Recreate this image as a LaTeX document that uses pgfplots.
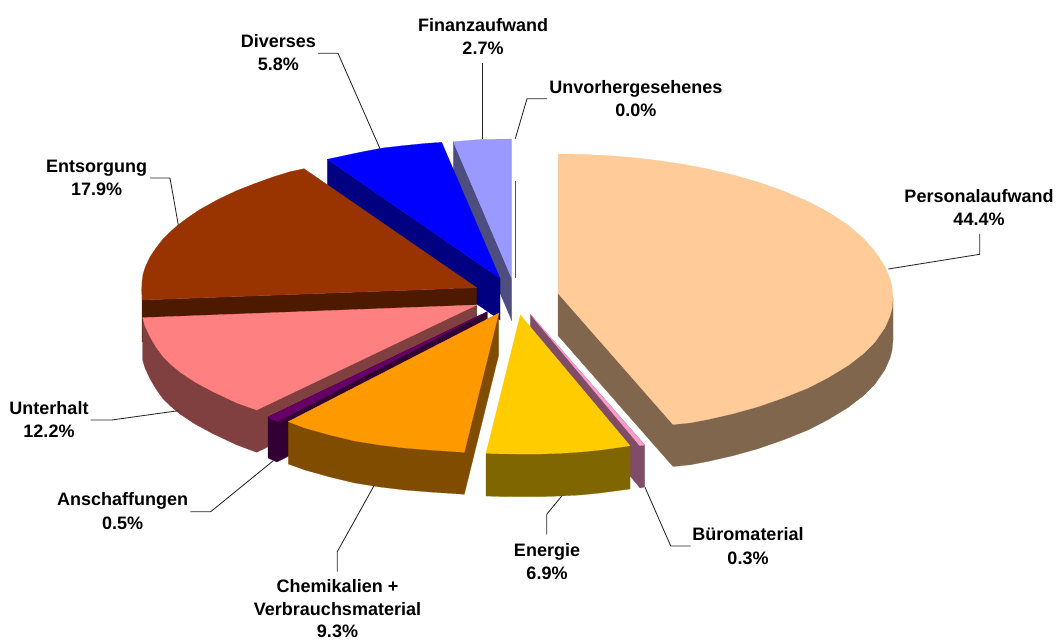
\documentclass[border=0pt]{standalone}
\usepackage{fontspec}
\setmainfont{Liberation Sans}
\usepackage{pgfplots}
\pgfplotsset{compat=1.18}
\definecolor{persT}{HTML}{FFCC99}\definecolor{persS}{HTML}{80664D}
\definecolor{bueT}{HTML}{FF99CC}\definecolor{bueS}{HTML}{804D66}
\definecolor{eneT}{HTML}{FFCC00}\definecolor{eneS}{HTML}{806600}
\definecolor{cheT}{HTML}{FF9900}\definecolor{cheS}{HTML}{804D00}
\definecolor{ansT}{HTML}{660066}\definecolor{ansS}{HTML}{330033}
\definecolor{untT}{HTML}{FF8080}\definecolor{untS}{HTML}{804040}
\definecolor{entT}{HTML}{993300}\definecolor{entS}{HTML}{4D1A00}
\definecolor{divT}{HTML}{0000FF}\definecolor{divS}{HTML}{000080}
\definecolor{finT}{HTML}{9999FF}\definecolor{finS}{HTML}{4D4D80}
\tikzset{lab/.style={anchor=base,inner sep=0pt,font=\bfseries\fontsize{18}{22}\selectfont,text=black}}
\pgfplotsset{
  face/.style={fill=#1,draw=#1,line width=0.2pt,no marks,forget plot},
  leader/.style={color=black!85,line width=0.85pt,no marks,forget plot,line join=miter},
}
\begin{document}
\begin{tikzpicture}
\useasboundingbox (0,0) rectangle (1056pt,639pt);
\begin{axis}[at={(0,0)},anchor=south west,width=1056pt,height=639pt,scale only axis,hide axis,
  xmin=0,xmax=1056,ymin=0,ymax=639,y dir=reverse,clip=false]
% Finanzaufwand
\addplot[face=finS] coordinates {(453.3,141.7)(511.7,278.3)(511.7,320.5)(453.3,183.7)} --cycle;
\addplot[face=finT] coordinates {(511.7,278.3)(453.3,141.7)(480,139.5)(511.7,139)} --cycle;
% Unvorhergesehenes
\addplot[color=finS,line width=0.9pt,no marks,forget plot] coordinates {(515.3,181)(515.3,278)};
% Diverses
\addplot[face=divS] coordinates {(327.3,159.3)(500,278.3)(500,320)(327.3,201.3)} --cycle;
\addplot[face=divT] coordinates {(500,278.3)(327.3,159.3)(345,155.5)(363,151.7)(383,148)(403,145.7)(425,143.5)(441.7,142.3)} --cycle;
% Entsorgung
\addplot[face=entS] coordinates {(142,300)(476.7,287.7)(476.7,329.7)(142,342)} --cycle;
\addplot[face=entT] coordinates {(476.7,287.7)(304,168.7)(289,172)(273,177)(255,183.5)(237,190.5)(218,199.5)(200,209.5)(188,217.6)(178,225)(170,232)(163,239)(156,248)(150,257)(147,263.3)(145,268)(143,274.5)(142,282)(141.7,290)(142,300)} --cycle;
% Unterhalt
\addplot[face=untS] coordinates {(476.7,305)(142.7,317.7)(142.7,360)(145,368)(150,378.7)(156,389)(163,398.7)(171,406.5)(180,414)(195,424)(213,433.7)(237,445)(256.7,452.3)(476.7,347)} --cycle;
\addplot[face=untT] coordinates {(476.7,305)(142.7,317.7)(145,326)(150,336.7)(156,347)(163,356.5)(171,364.5)(180,372)(195,382)(213,391.7)(237,403)(256.7,410)} --cycle;
% Anschaffungen
\addplot[face=ansS] coordinates {(487.3,311.7)(268,417)(268,458)(277,462)(487.3,354)} --cycle;
\addplot[face=ansT] coordinates {(487.3,311.7)(268,417)(277,422)} --cycle;
% Chemikalien + Verbrauchsmaterial
\addplot[face=cheS] coordinates {(498.7,313.3)(288.3,421.7)(288.3,464)(305,470)(330,477)(355,483)(380,487)(405,490)(430,492)(464.3,494.3)(498.7,355)} --cycle;
\addplot[face=cheT] coordinates {(498.7,313.3)(288.3,421.7)(305,428)(330,435)(355,441)(380,445)(405,448)(430,450)(464.3,452.3)} --cycle;
% Buromaterial
\addplot[face=bueS] coordinates {(530.3,314.3)(644.7,445)(644.7,487)(640,488)(530.3,356)} --cycle;
\addplot[face=bueT] coordinates {(530.3,314.3)(644.7,445)(639.7,445.7)} --cycle;
% Energie
\addplot[face=eneS] coordinates {(486,453.3)(630,445.7)(630,489)(615,491)(600,493)(580,495)(560,496)(540,496.7)(516.7,496.7)(500,496.5)(486,496)} --cycle;
\addplot[face=eneT] coordinates {(520.3,315)(486,453.3)(500,453.8)(516.7,454)(540,454)(560,453.3)(580,452)(600,450)(615,448)(630,445.7)} --cycle;
% Personalaufwand
\addplot[face=persS] coordinates {(558,293.3)(893,298)(893,340)(892,350.5)(890,358)(885,369.5)(875,384)(863,396)(848,407.5)(828,419.7)(808,430)(783,440)(758,448.7)(733,455.7)(708,461.4)(690,464.8)(673,466.5)(558,335.5)} --cycle;
\addplot[face=persT] coordinates {(558,293.3)(558,154)(583,154.4)(608,155.6)(633,157.6)(658,160.5)(683,164.2)(708,169)(733,174.9)(758,182)(783,190.8)(808,201.4)(828,212)(848,225)(863,238)(875,251.5)(885,266.7)(890,278.7)(892,287)(893,298)(892,308.5)(890,316)(885,327.5)(875,342)(863,354)(848,365.5)(828,377.7)(808,388)(783,398)(758,406.7)(733,413.7)(708,419.4)(690,422.8)(673,424.5)} --cycle;
% Leader lines
\addplot[leader] coordinates {(979.7,234)(979.7,254.3)(888.3,269)};
\addplot[leader] coordinates {(482.7,63.3)(482.7,139.3)};
\addplot[leader] coordinates {(547,98.7)(527,98.7)(515.3,138.7)};
\addplot[leader] coordinates {(318,53.3)(338,53.3)(380,148.7)};
\addplot[leader] coordinates {(150,178)(170,178)(178.3,225)};
\addplot[leader] coordinates {(90.7,420)(111.7,420)(178.3,410.7)};
\addplot[leader] coordinates {(190.3,511.7)(210.7,511.7)(273.3,460.7)};
\addplot[leader] coordinates {(337.3,571.7)(337.3,551.7)(374,485.7)};
\addplot[leader] coordinates {(546.7,534.3)(546.7,514.3)(562,495.7)};
\addplot[leader] coordinates {(690.7,546)(670.7,546)(645,487.3)};
% Labels
\node[lab] at (axis cs:979,202.3) {Personalaufwand};
\node[lab] at (axis cs:979,225.5) {44.4\%};
\node[lab] at (axis cs:483,31.5) {Finanzaufwand};
\node[lab] at (axis cs:483,54.8) {2.7\%};
\node[lab] at (axis cs:635.8,93.2) {Unvorhergesehenes};
\node[lab] at (axis cs:635.8,116.5) {0.0\%};
\node[lab] at (axis cs:278.3,47.7) {Diverses};
\node[lab] at (axis cs:278.3,71) {5.8\%};
\node[lab] at (axis cs:96.7,172.3) {Entsorgung};
\node[lab] at (axis cs:96.7,195.5) {17.9\%};
\node[lab] at (axis cs:49,414) {Unterhalt};
\node[lab] at (axis cs:49,437.3) {12.2\%};
\node[lab] at (axis cs:122.7,505.7) {Anschaffungen};
\node[lab] at (axis cs:122.7,529) {0.5\%};
\node[lab] at (axis cs:337.5,592.7) {Chemikalien +};
\node[lab] at (axis cs:337.5,615.5) {Verbrauchsmaterial};
\node[lab] at (axis cs:337.5,637.6) {9.3\%};
\node[lab] at (axis cs:547,556) {Energie};
\node[lab] at (axis cs:547,579) {6.9\%};
\node[lab] at (axis cs:748,540.3) {Büromaterial};
\node[lab] at (axis cs:748,564) {0.3\%};
\end{axis}
\end{tikzpicture}
\end{document}
